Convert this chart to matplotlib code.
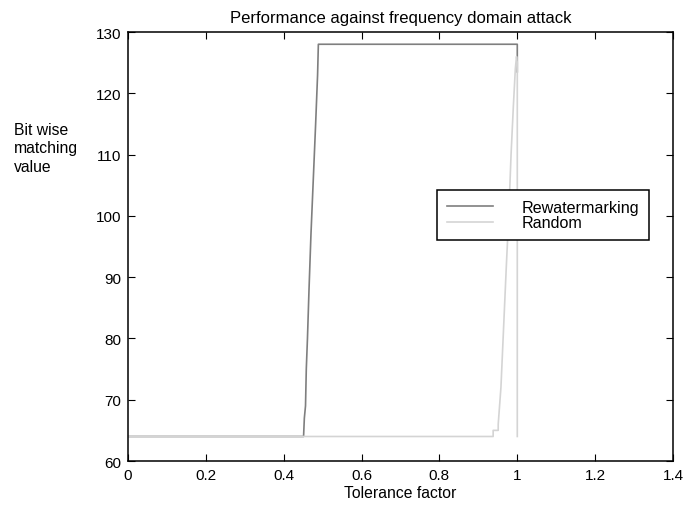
import matplotlib.pyplot as plt

plt.rcParams['font.family'] = ['Liberation Sans', 'DejaVu Sans']

# data
rewm_x = [0.0, 0.451, 0.453, 0.456, 0.458, 0.461, 0.465, 0.470, 0.476, 0.482, 0.487, 0.489, 1.0, 1.0]
rewm_y = [64, 64, 67, 69, 75, 80, 88, 97, 106, 115, 123, 128, 128, 123.5]

rand_x = [0.0, 0.938, 0.938, 0.951, 0.951, 0.958, 0.965, 0.972, 0.978, 0.984, 0.990, 0.995, 0.998, 1.0, 1.0]
rand_y = [64, 64, 65, 65, 66, 72, 82, 92, 100, 110, 118, 124, 126, 125, 64]

fig = plt.figure(figsize=(6.94, 5.06), dpi=100)
ax = fig.add_axes([128 / 694, 1 - 462 / 506, 545 / 694, 429 / 506])

ax.plot(rewm_x, rewm_y, color='#7f7f7f', lw=1.2, label='Rewatermarking')
ax.plot(rand_x, rand_y, color='#d4d4d4', lw=1.2, label='Random')

ax.set_xlim(0, 1.4)
ax.set_ylim(60, 130)
ax.set_xticks([0, 0.2, 0.4, 0.6, 0.8, 1, 1.2, 1.4])
ax.set_xticklabels(['0', '0.2', '0.4', '0.6', '0.8', '1', '1.2', '1.4'])
ax.set_yticks(range(60, 131, 10))
ax.tick_params(direction='in', top=True, right=True, labelsize=11, length=5, pad=5)
for s in ax.spines.values():
    s.set_linewidth(1.1)

ax.set_title('Performance against frequency domain attack', fontsize=12, pad=7)
ax.set_xlabel('Tolerance factor', fontsize=11.3, labelpad=2)
fig.text(14 / 694, 1 - 149 / 506, 'Bit wise\nmatching\nvalue', fontsize=11.3,
         ha='left', va='center', linespacing=1.3)

leg = ax.legend(loc='upper left', bbox_to_anchor=(0.567, 0.632), fontsize=11.6,
                handlelength=2.9, handletextpad=1.75, labelspacing=0.05,
                borderpad=0.6, borderaxespad=0, fancybox=False, framealpha=1)
leg.get_frame().set_edgecolor('black')
leg.get_frame().set_linewidth(1.1)

fig.savefig('out.png', dpi=100)
